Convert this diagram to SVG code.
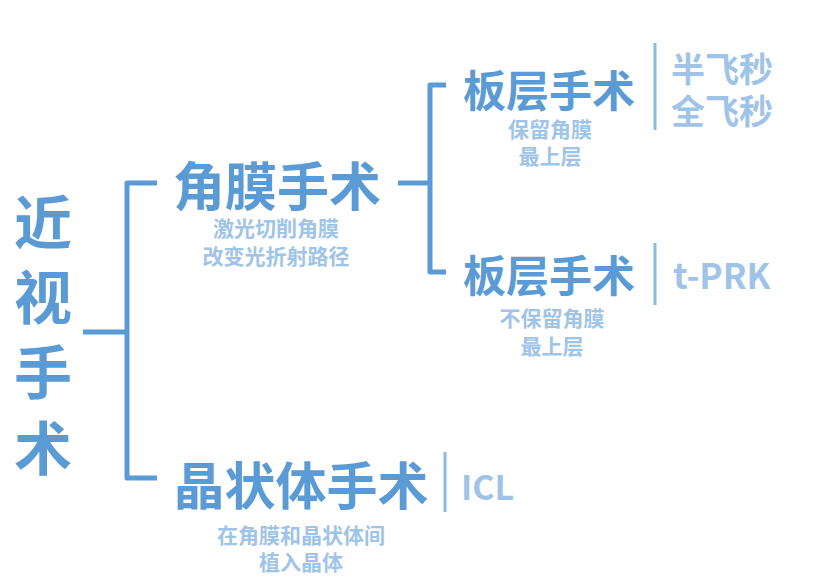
<svg xmlns="http://www.w3.org/2000/svg" width="825" height="588" viewBox="0 0 825 588">
<style>
.t{font-family:"Noto Sans CJK SC","Noto Sans",sans-serif;font-weight:700;fill:#5b9bd5;text-anchor:middle;dominant-baseline:central}
.s{font-family:"Noto Sans CJK SC","Noto Sans",sans-serif;font-weight:700;fill:#9fc4e8;text-anchor:middle;dominant-baseline:central;font-size:21px}
.r{font-family:"Noto Sans CJK SC","Noto Sans",sans-serif;font-weight:700;fill:#9fc4e8;text-anchor:start;dominant-baseline:central}
.c{fill:none;stroke:#5b9bd5;stroke-width:5;stroke-linejoin:round;stroke-linecap:butt}
.d{stroke:#8dbae3;stroke-width:3}
</style>
<rect width="825" height="588" fill="#ffffff"/>
<g id="connectors">
<path class="c" d="M83,332 H127"/>
<path class="c" d="M157,183 H127 V478 H157"/>
<path class="c" d="M398,183 H430"/>
<path class="c" d="M446,85 H430 V272 H446"/>
<line class="d" x1="655" y1="43" x2="655" y2="130"/>
<line class="d" x1="655" y1="243" x2="655" y2="305"/>
<line class="d" x1="445" y1="452" x2="445" y2="512"/>
</g>
<g id="root">
<text class="t" x="43" y="219" font-size="58">近</text>
<text class="t" x="43" y="294" font-size="58">视</text>
<text class="t" x="43" y="369" font-size="58">手</text>
<text class="t" x="43" y="445" font-size="58">术</text>
</g>
<g id="cornea">
<text class="t" x="277" y="183" font-size="52">角膜手术</text>
<text class="s" x="276" y="227">激光切削角膜</text>
<text class="s" x="276" y="255">改变光折射路径</text>
</g>
<g id="lamellar1">
<text class="t" x="549" y="88" font-size="43">板层手术</text>
<text class="s" x="550" y="128">保留角膜</text>
<text class="s" x="550" y="155">最上层</text>
</g>
<g id="femto">
<text class="r" x="671" y="67" font-size="34">半飞秒</text>
<text class="r" x="671" y="109" font-size="34">全飞秒</text>
</g>
<g id="lamellar2">
<text class="t" x="549" y="273" font-size="43">板层手术</text>
<text class="s" x="552" y="317">不保留角膜</text>
<text class="s" x="552" y="345">最上层</text>
</g>
<g id="tprk">
<text class="r" x="673" y="273" font-size="35">t-PRK</text>
</g>
<g id="lens">
<text class="t" x="301" y="483" font-size="51">晶状体手术</text>
<text class="s" x="301" y="534">在角膜和晶状体间</text>
<text class="s" x="301" y="561">植入晶体</text>
</g>
<g id="icl">
<text class="r" x="461" y="485" font-size="34">ICL</text>
</g>
</svg>
